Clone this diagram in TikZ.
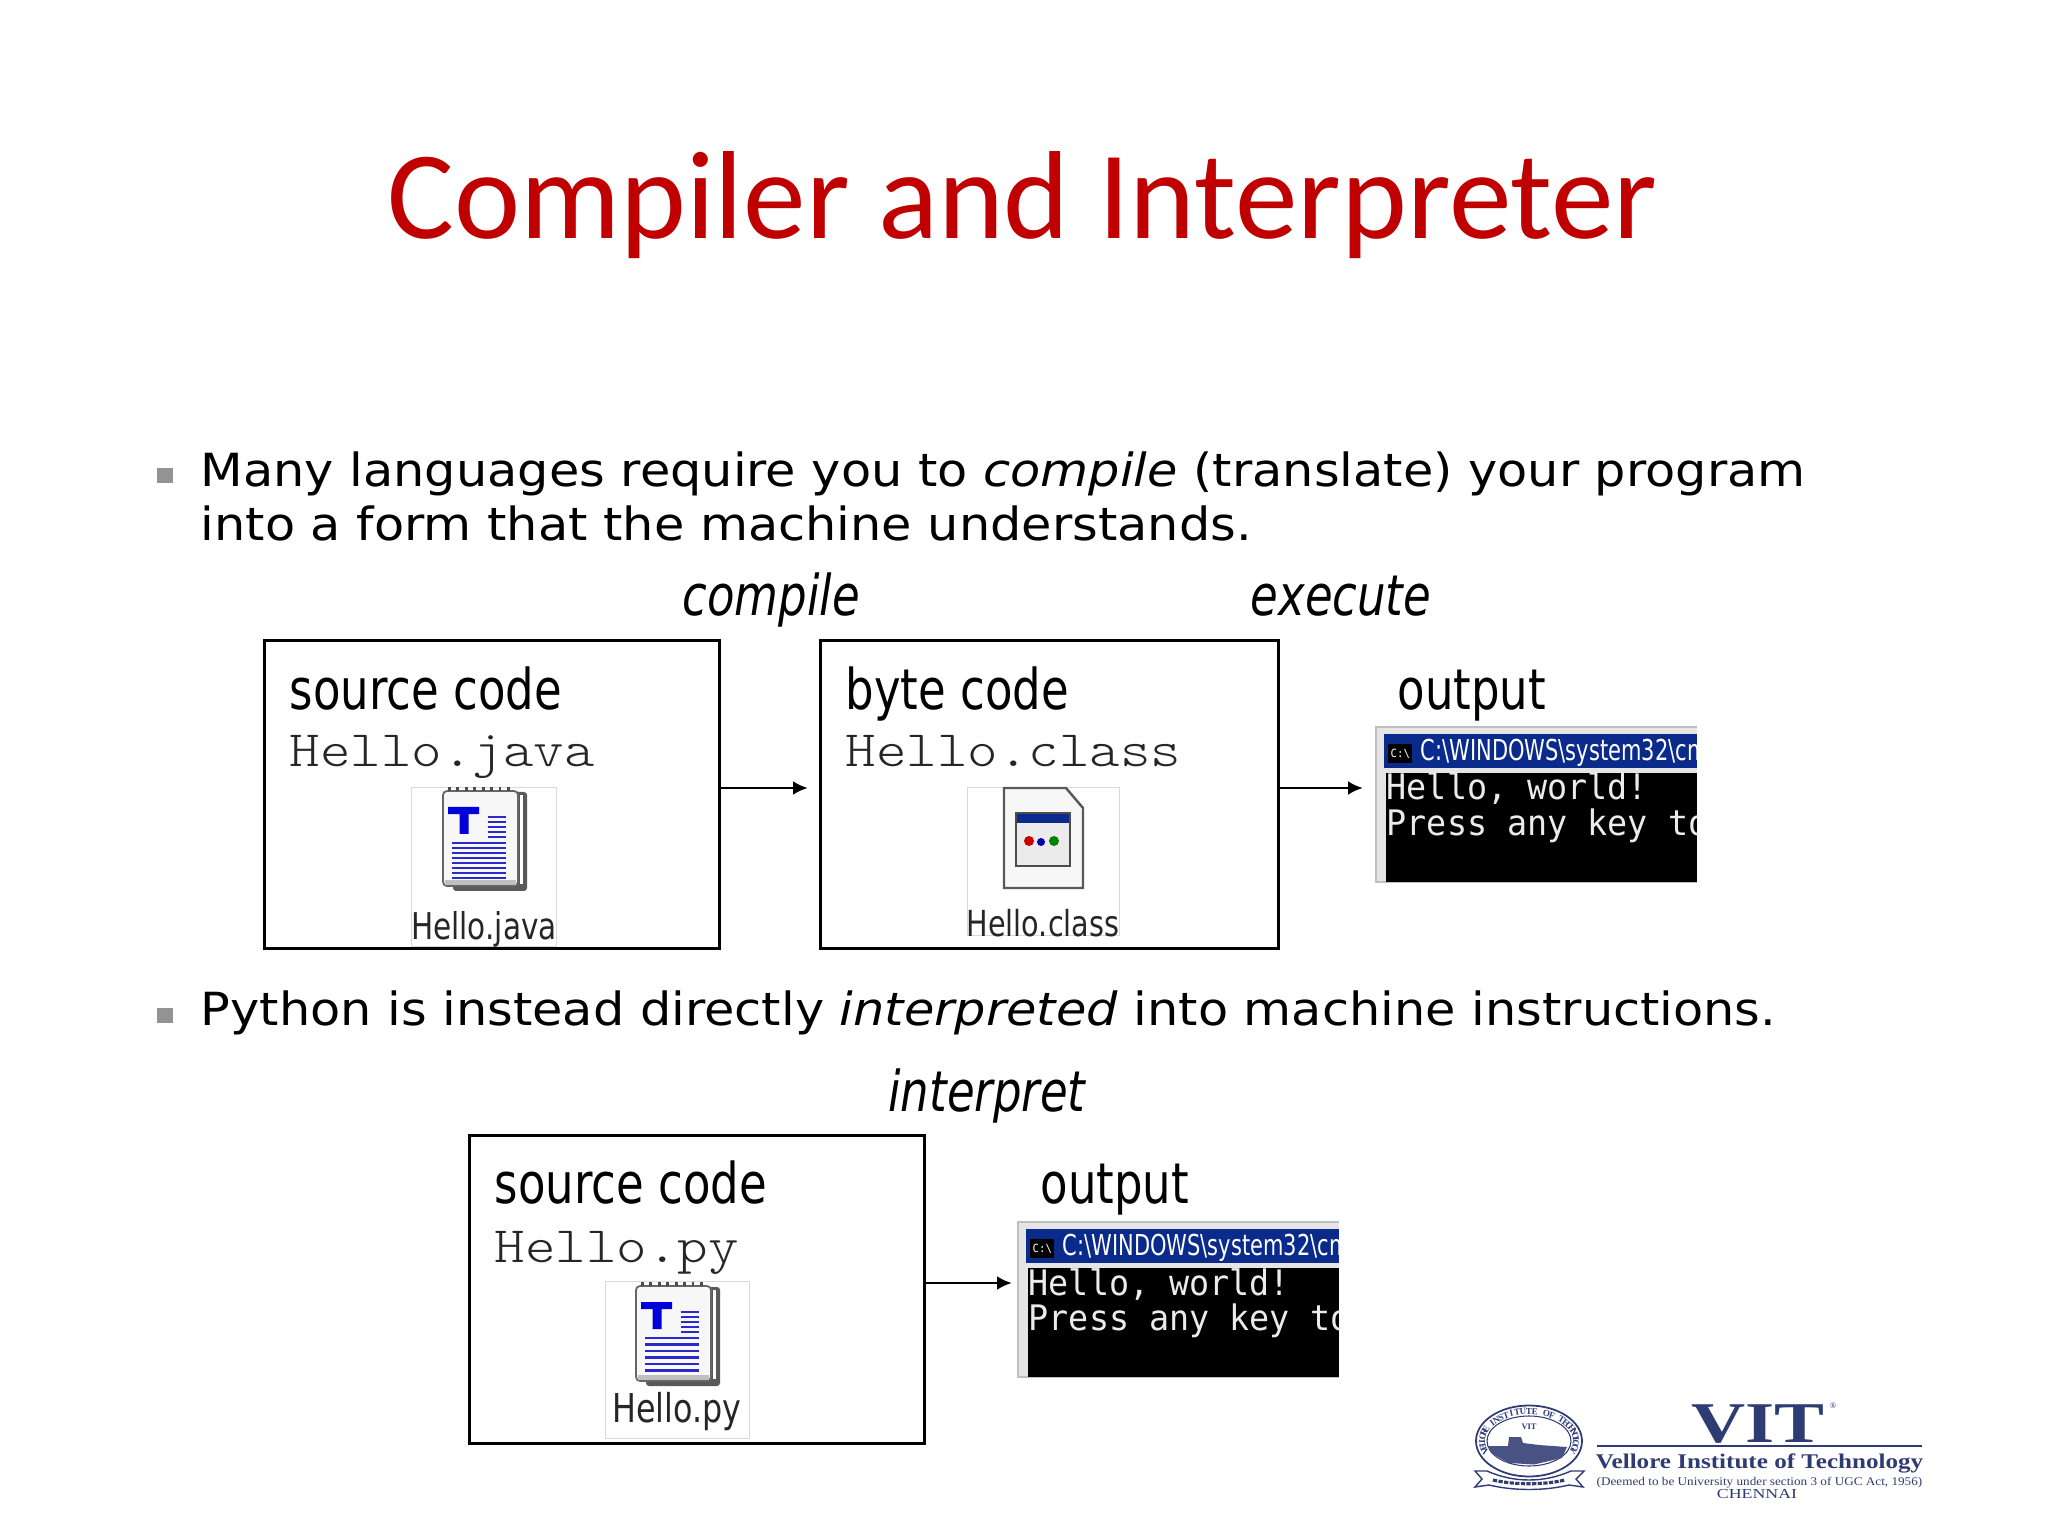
\documentclass[tikz,border=0pt]{standalone}
\usepackage{fontspec}
\usepackage{tikz}
\usetikzlibrary{arrows.meta,positioning,calc}
\setmainfont{DejaVu Sans}
\newfontfamily\bodyfam[FakeStretch=1.08]{DejaVu Sans}
\newfontfamily\titlefam{Carlito}
\newfontfamily\squeezefam[FakeStretch=0.8]{DejaVu Sans}
\newfontfamily\typefam[FakeStretch=1.14]{Latin Modern Mono Light}
\newfontfamily\consolefam[FakeStretch=0.95]{DejaVu Sans Mono}
\newfontfamily\logofam{Liberation Serif}
\definecolor{slidered}{HTML}{C00000}
\definecolor{vitblue}{HTML}{2F3B73}
\definecolor{barblue}{HTML}{0A2A8C}
\definecolor{iconblue}{HTML}{2A2AC8}
\tikzset{
  txt/.style={inner sep=0pt,anchor=base west},
  headline/.style={txt,anchor=base,text=slidered,font=\titlefam\fontsize{35.66pt}{40pt}\selectfont},
  bodytext/.style={txt,font=\bodyfam\fontsize{13pt}{15pt}\selectfont},
  bulletbox/.style={fill=gray!85,inner sep=0pt,minimum width=0.16cm,minimum height=0.15cm},
  stagelabel/.style={txt,anchor=base,font=\squeezefam\itshape\fontsize{16pt}{18pt}\selectfont},
  boxhead/.style={txt,font=\squeezefam\fontsize{16pt}{18pt}\selectfont},
  filename/.style={txt,text=black!85,font=\typefam\fontsize{14.5pt}{15pt}\selectfont},
  stagebox/.style={draw,line width=0.9pt,anchor=north west,inner sep=0pt,minimum width=4.55cm,minimum height=3.08cm},
  iconframe/.style={draw=gray!30,line width=0.3pt,anchor=north west,inner sep=0pt},
  iconname/.style={txt,anchor=base,text=black!85,font=\squeezefam\fontsize{10.5pt}{11pt}\selectfont},
  flow/.style={-{Latex[length=0.15cm,width=0.14cm]},line width=0.85pt},
  consoletext/.style={txt,text=black!8,font=\consolefam\fontsize{10pt}{10pt}\selectfont},
  logotext/.style={txt,anchor=base,text=vitblue},
}
% notebook icon, #1 = top left corner, #2 = y values of the long lines
\newcommand{\noteicon}[2]{
  \begin{scope}[shift={#1}]
    \fill[black!65,rounded corners=0.03cm] (0.10,0.05) rectangle (0.84,1.04);
    \fill[white] (0.77,0.08) rectangle (0.80,0.97);
    \draw[black!60,fill=black!3,rounded corners=0.04cm,line width=0.5pt] (0,0.04) rectangle (0.75,0.99);
    \fill[black!25] (0.02,0.93) rectangle (0.73,0.98);
    \draw[black!70,line width=1.4pt,dash pattern=on 0.8pt off 1.6pt] (0.05,0.02) -- (0.72,0.02);
    \fill[blue!85!black] (0.05,0.2) rectangle (0.36,0.27) (0.165,0.2) rectangle (0.255,0.47);
    \foreach \r in {0.30,0.35,0.40,0.45,0.50}{
      \draw[iconblue,line width=0.8pt] (0.445,\r) -- (0.63,\r);
    }
    \foreach \r in {#2}{
      \draw[iconblue,line width=0.8pt] (0.09,\r) -- (0.63,\r);
    }
  \end{scope}
}
% console window, #1 = name, #2 = top left corner
\newcommand{\consolewin}[2]{
  \begin{scope}[shift={#2}]
    \fill[black!10] (0,0) rectangle (3.21,1.55);
    \draw[black!25,line width=0.3pt] (3.21,0) -- (0,0) -- (0,1.55) -- (3.21,1.55);
    \fill[barblue] (0.08,0.07) rectangle (3.21,0.41);
    \fill[black] (0.10,0.46) rectangle (3.21,1.55);
    \fill[black] (0.12,0.17) rectangle (0.36,0.36);
    \node[txt,text=white,font=\consolefam\fontsize{3.2pt}{3pt}\selectfont] (#1icon) at (0.14,0.30) {C:\textbackslash};
    \begin{scope}
      \clip (0,0) rectangle (3.21,1.55);
      \node[txt,xscale=0.91,text=white,font=\squeezefam\fontsize{8.2pt}{9pt}\selectfont] (#1bar) at (0.44,0.33) {C:\textbackslash WINDOWS\textbackslash system32\textbackslash cmd.exe};
      \node[consoletext] (#1hello) at (0.10,0.73) {Hello, world!};
      \node[consoletext] (#1press) at (0.10,1.08) {Press any key to continue};
    \end{scope}
  \end{scope}
}
\begin{document}
\begin{tikzpicture}[x=1cm,y=-1cm]
\useasboundingbox (0,0) rectangle (20.48,15.36);
\node[headline] (title) at (10.225,2.39) {Compiler and Interpreter};

\node[bulletbox] (bulletA) at (1.645,4.76) {};
\node[bodytext] (lineA) at (2.00,4.86) {Many languages require you to \textit{compile} (translate) your program};
\node[bodytext] (lineB) at (2.00,5.41) {into a form that the machine understands.};
\node[stagelabel] (compile) at (7.71,6.16) {compile};
\node[stagelabel] (execute) at (13.41,6.16) {execute};

% first row
\node[stagebox] (srcbox) at (2.63,6.39) {};
\node[stagebox,minimum width=4.58cm] (bytebox) at (8.19,6.39) {};
\node[boxhead] (srchead) at (2.89,7.09) {source code};
\node[filename] (srcfile) at (2.89,7.67) {Hello.java};
\node[boxhead] (bytehead) at (8.45,7.09) {byte code};
\node[filename] (bytefile) at (8.45,7.67) {Hello.class};
\node[iconframe,minimum width=1.45cm,minimum height=1.59cm] (srcicon) at (4.11,7.87) {};
\noteicon{(4.43,7.87)}{0.56,0.61,0.66,0.71,0.76,0.81,0.86,0.91}
\node[iconname] (srcname) at (4.84,9.39) {Hello.java};
\node[iconframe,minimum width=1.52cm,minimum height=1.48cm] (byteicon) at (9.67,7.87) {};
\draw[black!65,fill=black!3,line width=0.7pt] (10.04,7.88) -- (10.66,7.88) -- (10.83,8.08) -- (10.83,8.88) -- (10.04,8.88) -- cycle;
\draw[black!70,fill=black!8,line width=0.8pt] (10.16,8.13) rectangle (10.70,8.66);
\fill[barblue] (10.17,8.14) rectangle (10.69,8.23);
\fill[red!80!black] (10.29,8.41) circle (0.05);
\fill[blue!70!black] (10.41,8.42) circle (0.04);
\fill[green!50!black] (10.54,8.41) circle (0.05);
\node[iconname,font=\squeezefam\fontsize{10.2pt}{11pt}\selectfont] (bytename) at (10.43,9.36) {Hello.class};
\coordinate (toByte) at (8.08,7.88);
\coordinate (toRun) at (13.63,7.88);
\draw[flow] (srcbox.east |- toByte) -- (toByte);
\draw[flow] (bytebox.east |- toRun) -- (toRun);
\node[boxhead] (runhead) at (13.97,7.09) {output};
\consolewin{runwin}{(13.76,7.27)}

\node[bulletbox] (bulletB) at (1.645,10.15) {};
\node[bodytext] (lineC) at (2.00,10.25) {Python is instead directly \textit{interpreted} into machine instructions.};
\node[stagelabel] (interpret) at (9.87,11.11) {interpret};

% second row
\node[stagebox] (pybox) at (4.68,11.34) {};
\node[boxhead] (pyhead) at (4.94,12.04) {source code};
\node[filename] (pyfile) at (4.94,12.62) {Hello.py};
\node[iconframe,minimum width=1.44cm,minimum height=1.57cm] (pyicon) at (6.05,12.81) {};
\noteicon{(6.36,12.82)}{0.56,0.625,0.69,0.755,0.82,0.885}
\node[iconname,font=\squeezefam\fontsize{11.3pt}{12pt}\selectfont] (pyname) at (6.77,14.22) {Hello.py};
\coordinate (toOut) at (10.12,12.83);
\draw[flow] (pybox.east |- toOut) -- (toOut);
\node[boxhead] (outhead) at (10.40,12.04) {output};
\consolewin{outwin}{(10.18,12.22)}

% logo
\begin{scope}[shift={(15.29,14.41)},y=1cm]
  \draw[vitblue,line width=0.5pt] (0,0) ellipse (0.53cm and 0.355cm);
  \draw[vitblue,line width=0.3pt] (0,0) ellipse (0.42cm and 0.25cm);
  \foreach \c [count=\i] in {V,E,L,L,O,R,E,{},I,N,S,T,I,T,U,T,E,{},O,F,{},T,E,C,H,N,O,L,O,G,Y}{
    \pgfmathsetmacro{\t}{200-(\i-1)*7.33}
    \pgfmathsetmacro{\turn}{atan2(-0.285*cos(\t),0.47*sin(\t))}
    \node[inner sep=0pt,text=vitblue,rotate=\turn,font=\logofam\bfseries\fontsize{2.6pt}{3pt}\selectfont] (seal\i) at (\t:0.47cm and 0.295cm) {\c};
  }
  \node[logotext,font=\logofam\bfseries\fontsize{2.4pt}{3pt}\selectfont] (sealname) at (0,0.12) {VIT};
  \fill[vitblue!88] (-0.41,-0.05) -- (-0.21,-0.05) -- (-0.2,0.04) -- (-0.08,0.04) -- (-0.06,-0.02) -- (0.1,-0.04) -- (0.38,-0.06)
    -- (0.33,-0.17) -- (0.05,-0.235) -- (-0.2,-0.22) -- (-0.38,-0.12) -- cycle;
  \draw[vitblue,fill=white,line width=0.4pt] (-0.54,-0.3) -- (-0.42,-0.3) .. controls (-0.15,-0.42) and (0.15,-0.42) .. (0.42,-0.3) -- (0.55,-0.3) -- (0.47,-0.38) -- (0.54,-0.46)
    -- (0.4,-0.44) .. controls (0.15,-0.5) and (-0.15,-0.5) .. (-0.4,-0.44) -- (-0.54,-0.46) -- (-0.47,-0.38) -- cycle;
  \draw[vitblue,line width=0.9pt,dash pattern=on 1.2pt off 0.4pt] (-0.36,-0.39) .. controls (-0.15,-0.44) and (0.15,-0.44) .. (0.36,-0.39);
\end{scope}
\node[logotext,xscale=1.3,font=\logofam\bfseries\fontsize{16.4pt}{17pt}\selectfont] (vit) at (17.58,14.42) {VIT};
\node[logotext,font=\logofam\fontsize{2.4pt}{3pt}\selectfont] (vitmark) at (18.33,14.08) {\textregistered};
\coordinate (ruleL) at (15.97,14.46);
\coordinate (ruleR) at (19.22,14.46);
\draw[vitblue,line width=0.5pt] (ruleL) -- (ruleR);
\node[logotext,xscale=1.2,font=\logofam\bfseries\fontsize{5.95pt}{7pt}\selectfont] (vitname) at (17.595,14.68) {Vellore Institute of Technology};
\node[logotext,xscale=1.12,font=\logofam\fontsize{3.35pt}{5pt}\selectfont] (vitnote) at (17.595,14.85) {(Deemed to be University under section 3 of UGC Act, 1956)};
\node[logotext,xscale=1.3,font=\logofam\fontsize{3.9pt}{5pt}\selectfont] (vitcity) at (17.57,14.98) {CHENNAI};
\end{tikzpicture}
\end{document}
